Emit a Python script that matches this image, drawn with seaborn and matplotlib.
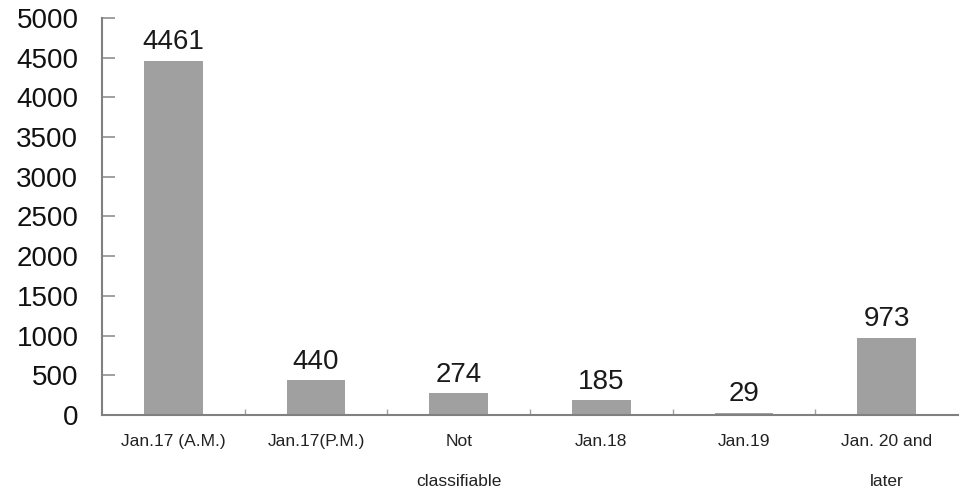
import matplotlib
matplotlib.use("Agg")
import matplotlib.pyplot as plt
import seaborn as sns
import pandas as pd

categories = ["Jan.17 (A.M.)", "Jan.17(P.M.)", "Not\nclassifiable", "Jan.18", "Jan.19", "Jan. 20 and\nlater"]
deaths = [4461, 440, 274, 185, 29, 973]
y_ticks = [0, 500, 1000, 1500, 2000, 2500, 3000, 3500, 4000, 4500, 5000]

sns.set_style("white")
plt.rcParams["font.family"] = ["Liberation Sans", "DejaVu Sans"]

df = pd.DataFrame({"period": categories, "count": deaths})

fig = plt.figure(figsize=(9.61, 4.94), dpi=100)
ax = fig.add_axes([102 / 961, 1 - 415 / 494, (958 - 102) / 961, (415 - 18) / 494])

sns.barplot(data=df, x="period", y="count", color="#a0a0a0", saturation=1,
            width=0.41, edgecolor="none", ax=ax)

for i, v in enumerate(deaths):
    ax.text(i, v + 70, str(v), ha="center", va="bottom", fontsize=20, color="#1a1a1a")

ax.set_ylim(0, 5000)
ax.set_xlim(-0.5, len(categories) - 0.5)
ax.set_yticks(y_ticks)
ax.set_yticklabels([str(t) for t in y_ticks], fontsize=20, color="#111111")
ax.tick_params(axis="y", direction="in", length=9, width=1.2, color="#909090", pad=17, left=True)

# category boundary ticks on the baseline
ax.set_xticks(range(len(categories)))
ax.set_xticklabels(categories, fontsize=12.5, color="#222222", linespacing=3.05)
ax.tick_params(axis="x", length=0, pad=14)
ax.set_xticks([i + 0.5 for i in range(len(categories) - 1)], minor=True)
ax.tick_params(axis="x", which="minor", direction="in", length=4, width=1, color="#a0a0a0", bottom=True)

ax.set_xlabel("")
ax.set_ylabel("")
for side in ["top", "right"]:
    ax.spines[side].set_visible(False)
for side in ["left", "bottom"]:
    ax.spines[side].set_color("#808080")
    ax.spines[side].set_linewidth(1.5)

fig.savefig("out.png", dpi=100)
